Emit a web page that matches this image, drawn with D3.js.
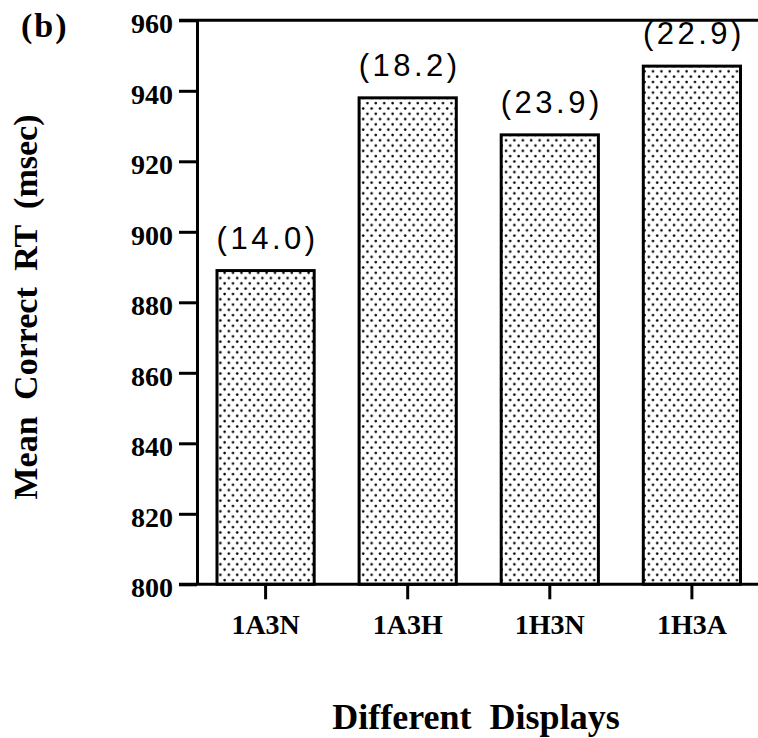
<!DOCTYPE html>
<html lang="en">
<head>
<meta charset="UTF-8"/>
<title>Mean Correct RT</title>
<style>
  body { margin: 0; background: #ffffff; }
  svg { display: block; }
  .serif { font-family: "Liberation Serif", "DejaVu Serif", serif; font-weight: bold; fill: #000; }
  .value_text { font-family: "Liberation Sans", Arial, sans-serif; font-size: 31px; letter-spacing: 3.5px; fill: #000; }
  .axis path, .axis line { stroke: #000; stroke-width: 3; }
</style>
</head>
<body>
<svg width="758" height="738"></svg>
<script src="https://cdn.jsdelivr.net/npm/d3@7"></script>
<script>
const categories = ["1A3N", "1A3H", "1H3N", "1H3A"];
const meanRT = [889, 938, 927.5, 947];
const errorRates = [14.0, 18.2, 23.9, 22.9];
const yTicks = [800, 820, 840, 860, 880, 900, 920, 940, 960];

const chart_data = categories.map((c, i) => ({ display: c, value: meanRT[i], err: errorRates[i] }));

const svg = d3.select('svg');

const axisX = 197;
const rightEdge = 760;

const yScale = d3.scaleLinear()
  .domain([800, 960])
  .range([584.3, 20.3]);

const xScale = d3.scaleBand()
  .domain(categories)
  .range([217, 740.5])
  .paddingInner(0.316)
  .paddingOuter(0);

// dotted fill
const pat = svg.append('defs').append('pattern')
  .attr('id', 'dots')
  .attr('patternUnits', 'userSpaceOnUse')
  .attr('width', 8.4)
  .attr('height', 10.6);
pat.append('rect').attr('width', 8.4).attr('height', 10.6).attr('fill', '#fff');
pat.append('circle').attr('cx', 2).attr('cy', 2.5).attr('r', 1.3).attr('fill', '#000');
pat.append('circle').attr('cx', 6.2).attr('cy', 7.8).attr('r', 1.3).attr('fill', '#000');

// frame lines top and bottom
svg.append('line')
  .attr('x1', 179).attr('x2', rightEdge)
  .attr('y1', yScale(960)).attr('y2', yScale(960))
  .attr('stroke', '#000').attr('stroke-width', 3);

// bars
svg.selectAll('.bar')
  .data(chart_data)
  .enter()
  .append('rect')
  .attr('class', 'bar')
  .attr('x', d => xScale(d.display))
  .attr('y', d => yScale(d.value))
  .attr('width', xScale.bandwidth())
  .attr('height', d => yScale(800) - yScale(d.value))
  .attr('fill', 'url(#dots)')
  .attr('stroke', '#000')
  .attr('stroke-width', 3);

svg.append('line')
  .attr('x1', 179).attr('x2', rightEdge)
  .attr('y1', yScale(800)).attr('y2', yScale(800))
  .attr('stroke', '#000').attr('stroke-width', 3);

// Y axis
const yAxis = svg.append('g')
  .attr('class', 'axis')
  .attr('transform', `translate(${axisX}, 0)`)
  .call(d3.axisLeft(yScale).tickValues(yTicks).tickSize(18).tickSizeOuter(0).tickPadding(6));
yAxis.selectAll('text')
  .attr('class', 'serif')
  .attr('dy', '0.45em')
  .style('font-size', '28px');

// X axis
const xAxis = svg.append('g')
  .attr('class', 'axis')
  .attr('transform', `translate(0, ${yScale(800)})`)
  .call(d3.axisBottom(xScale).tickSize(15).tickSizeOuter(0).tickPadding(15));
xAxis.select('.domain').remove();
xAxis.selectAll('text')
  .attr('class', 'serif')
  .attr('dy', '0.71em')
  .style('font-size', '28px');

// values above bars
svg.selectAll('.value_text')
  .data(chart_data)
  .enter()
  .append('text')
  .attr('class', 'value_text')
  .attr('x', d => xScale(d.display) + xScale.bandwidth() / 2 + 2)
  .attr('y', d => yScale(d.value) - 22)
  .attr('text-anchor', 'middle')
  .text(d => `(${d.err.toFixed(1)})`);

// labels
svg.append('text')
  .attr('class', 'serif')
  .attr('x', 21)
  .attr('y', 37)
  .style('font-size', '34px')
  .style('letter-spacing', '2px')
  .text('(b)');

svg.append('text')
  .attr('class', 'serif')
  .attr('transform', 'translate(37, 307) rotate(-90)')
  .attr('text-anchor', 'middle')
  .style('font-size', '34px')
  .style('word-spacing', '8px')
  .text('Mean Correct RT (msec)');

svg.append('text')
  .attr('class', 'serif')
  .attr('x', 476)
  .attr('y', 729)
  .attr('text-anchor', 'middle')
  .style('font-size', '36px')
  .style('word-spacing', '9px')
  .text('Different Displays');
</script>
</body>
</html>
